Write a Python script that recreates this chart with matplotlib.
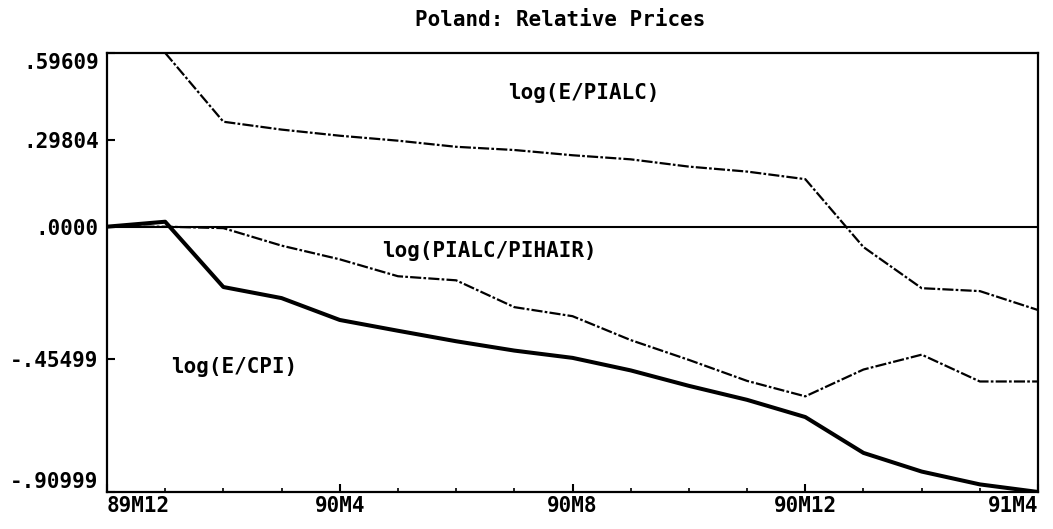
import numpy as np
import matplotlib
matplotlib.use('Agg')
import matplotlib.pyplot as plt

# months since 89M12
months = list(range(17))
x_ticks = [0, 4, 8, 12, 16]
x_labels = ['89M12', '90M4', '90M8', '90M12', '91M4']
y_ticks = [0.59609, 0.29804, 0.0, -0.45499, -0.90999]
y_labels = ['.59609', '.29804', '.0000', '-.45499', '-.90999']

e_cpi = [0.0, 0.017, -0.207, -0.245, -0.320, -0.357, -0.393, -0.425, -0.450,
         -0.493, -0.546, -0.594, -0.653, -0.776, -0.840, -0.884, -0.90999]
pialc_pihair = [0.0, 0.0, -0.005, -0.065, -0.112, -0.170, -0.184, -0.276, -0.307,
                -0.389, -0.457, -0.529, -0.582, -0.490, -0.439, -0.531, -0.531]
e_pialc = [np.nan, 0.59609, 0.360, 0.333, 0.312, 0.295, 0.274, 0.263, 0.245,
           0.231, 0.206, 0.189, 0.163, -0.070, -0.211, -0.221, -0.286]

FONT = dict(family='DejaVu Sans Mono', weight='bold', size=15)


def main():
  fig = plt.figure(figsize=(10.53, 5.29), dpi=100)
  ax = fig.add_axes([0.1016, 0.070, 0.8842, 0.830])

  ax.axhline(0, color='black', lw=1.5)
  dashdot = (0, (5, 1, 1.2, 1))
  ax.plot(months, e_pialc, color='black', lw=1.6, ls=dashdot)
  ax.plot(months, pialc_pihair, color='black', lw=1.6, ls=dashdot)
  ax.plot(months, e_cpi, color='black', lw=2.9, solid_joinstyle='round')

  ax.set_xlim(0, 16)
  ax.set_ylim(-0.90999, 0.59609)

  ax.text(6.9, 0.46, 'log(E/PIALC)', ha='left', va='center', **FONT)
  ax.text(4.73, -0.082, 'log(PIALC/PIHAIR)', ha='left', va='center', **FONT)
  ax.text(1.1, -0.48, 'log(E/CPI)', ha='left', va='center', **FONT)

  ax.set_xticks(x_ticks)
  ax.set_xticklabels(x_labels, **FONT)
  ax.set_xticks(months, minor=True)
  ax.set_yticks(y_ticks)
  ax.set_yticklabels(y_labels, **FONT)
  ax.tick_params(axis='both', which='major', direction='in', length=6, width=1.5, pad=3)
  ax.tick_params(axis='x', which='minor', direction='in', length=3, width=1.2)
  ax.tick_params(axis='y', pad=6)

  xl = ax.get_xticklabels()
  xl[0].set_ha('left')
  xl[-1].set_ha('right')
  yl = ax.get_yticklabels()
  yl[0].set_va('top')
  yl[-1].set_va('bottom')

  for s in ax.spines.values():
    s.set_linewidth(1.6)

  fig.text(0.532, 0.962, 'Poland: Relative Prices', ha='center', va='center', **FONT)

  fig.savefig('out.png', dpi=100)


if ( __name__ == "__main__" ):
  main()
